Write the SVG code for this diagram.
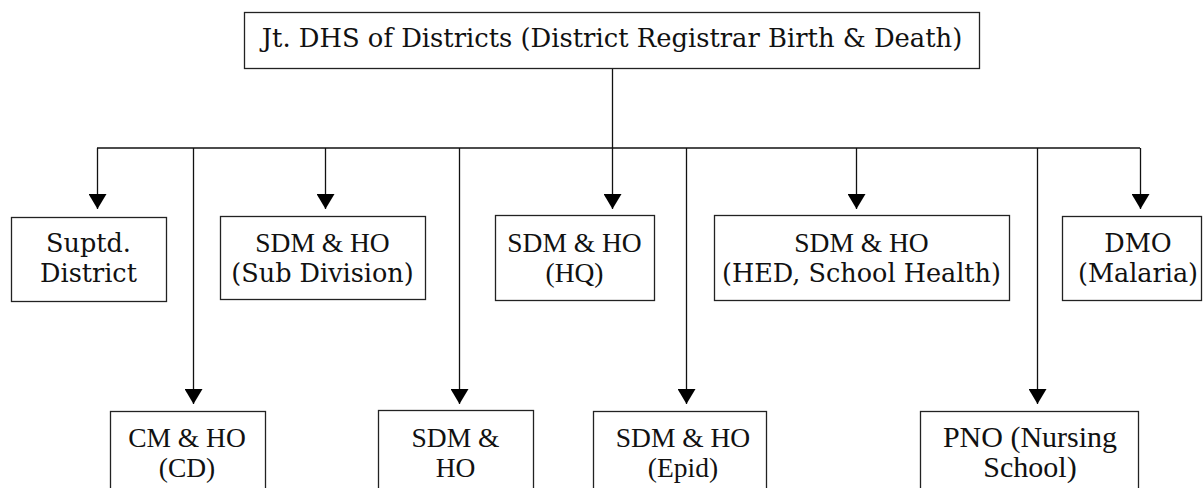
<svg xmlns="http://www.w3.org/2000/svg" width="1203" height="488" viewBox="0 0 1203 488">
<style>
.box{fill:#fff;stroke:#222;stroke-width:1.3}
.ln{fill:none;stroke:#111;stroke-width:1.3}
.b{font-family:"DejaVu Serif",serif;font-size:25.5px;fill:#111;text-anchor:middle}
.t{font-family:"Liberation Serif",serif;font-size:27.5px;fill:#111;text-anchor:middle}
.p{font-family:"Liberation Serif",serif;font-size:30px;fill:#111;text-anchor:middle}
</style>
<defs>
<marker id="ah" viewBox="0 0 15 18" refX="15" refY="9" markerWidth="15" markerHeight="18" markerUnits="userSpaceOnUse" orient="auto">
<path d="M0,0 L15,9 L0,18 z" fill="#000"/>
</marker>
</defs>
<rect width="1203" height="488" fill="#fff"/>
<g id="connectors">
<line class="ln" x1="97" y1="148" x2="1140" y2="148"/>
<line class="ln" x1="612.5" y1="68" x2="612.5" y2="209" marker-end="url(#ah)"/>
<line class="ln" x1="97.5" y1="148" x2="97.5" y2="209" marker-end="url(#ah)"/>
<line class="ln" x1="325.5" y1="148" x2="325.5" y2="209" marker-end="url(#ah)"/>
<line class="ln" x1="856.5" y1="148" x2="856.5" y2="209" marker-end="url(#ah)"/>
<line class="ln" x1="1140.5" y1="148" x2="1140.5" y2="209" marker-end="url(#ah)"/>
<line class="ln" x1="193.5" y1="148" x2="193.5" y2="404" marker-end="url(#ah)"/>
<line class="ln" x1="459.5" y1="148" x2="459.5" y2="404" marker-end="url(#ah)"/>
<line class="ln" x1="686.5" y1="148" x2="686.5" y2="404" marker-end="url(#ah)"/>
<line class="ln" x1="1037.5" y1="148" x2="1037.5" y2="404" marker-end="url(#ah)"/>
</g>
<g id="n-top">
<rect class="box" x="244.5" y="12.5" width="735" height="56"/>
<text class="b" x="612" y="47" style="font-size:25.8px">Jt. DHS of Districts (District Registrar Birth &amp; Death)</text>
</g>
<g id="n-suptd">
<rect class="box" x="11.5" y="217.5" width="155" height="84"/>
<text class="b" x="88.5" y="252">Suptd.</text>
<text class="b" x="88.5" y="282">District</text>
</g>
<g id="n-subdiv">
<rect class="box" x="220.5" y="216.5" width="205" height="83"/>
<text class="t" x="322.5" y="252">SDM &amp; HO</text>
<text class="b" x="322.5" y="282">(Sub Division)</text>
</g>
<g id="n-hq">
<rect class="box" x="495.5" y="215.5" width="159" height="85"/>
<text class="t" x="574.5" y="252">SDM &amp; HO</text>
<text class="t" x="574.5" y="282">(HQ)</text>
</g>
<g id="n-hed">
<rect class="box" x="714.5" y="215.5" width="295" height="85"/>
<text class="t" x="861.5" y="252">SDM &amp; HO</text>
<text class="b" x="861.5" y="282">(HED, School Health)</text>
</g>
<g id="n-dmo">
<rect class="box" x="1062.5" y="216.5" width="139" height="84"/>
<text class="b" x="1138" y="252">DMO</text>
<text class="b" x="1138" y="282">(Malaria)</text>
</g>
<g id="n-cmho">
<rect class="box" x="110.5" y="411.5" width="155" height="90"/>
<text class="t" x="187" y="447">CM &amp; HO</text>
<text class="t" x="187" y="477">(CD)</text>
</g>
<g id="n-sdmho">
<rect class="box" x="378.5" y="410.5" width="155" height="92"/>
<text class="t" x="455.5" y="447">SDM &amp;</text>
<text class="t" x="455.5" y="477">HO</text>
</g>
<g id="n-epid">
<rect class="box" x="593.5" y="411.5" width="173" height="90"/>
<text class="t" x="683" y="447">SDM &amp; HO</text>
<text class="t" x="683" y="477">(Epid)</text>
</g>
<g id="n-pno">
<rect class="box" x="920.5" y="411.5" width="218" height="90"/>
<text class="p" x="1030" y="447">PNO (Nursing</text>
<text class="p" x="1030" y="477">School)</text>
</g>
</svg>
